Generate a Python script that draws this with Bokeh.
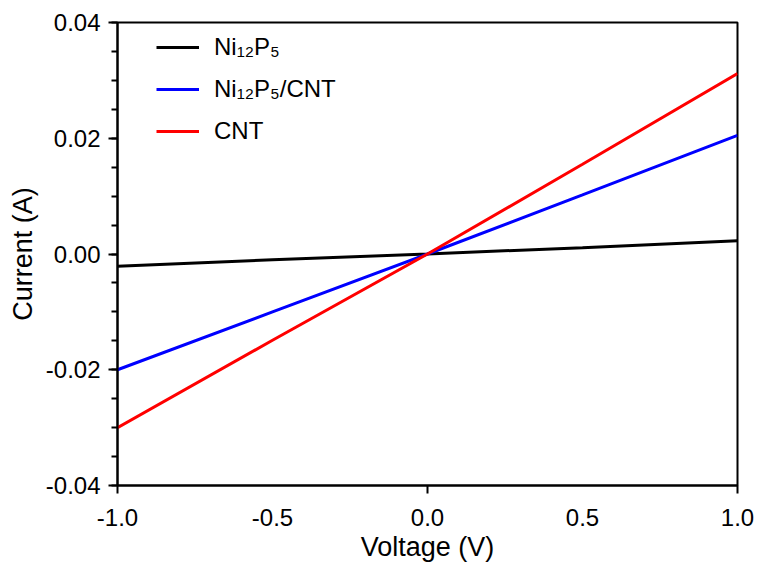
from bokeh.plotting import figure
from bokeh.models import Range1d, FixedTicker, PrintfTickFormatter, Legend, LegendItem
from bokeh.embed import file_html
from bokeh.resources import INLINE

voltage = [-1.0, -0.5, 0.0, 0.5, 1.0]
ni12p5 = [-0.0021, -0.0010, 0.0, 0.0011, 0.0023]
ni12p5_cnt = [-0.0200, -0.0100, 0.0, 0.0102, 0.0205]
cnt = [-0.0300, -0.0149, 0.0, 0.0155, 0.0312]

series_names = ["Ni\u2081\u2082P\u2085", "Ni\u2081\u2082P\u2085/CNT", "CNT"]
series_colors = ["#000000", "#0000ff", "#ff0000"]

x_ticks = [-1.0, -0.5, 0.0, 0.5, 1.0]
x_tick_marks = [-1.0, 0.0, 1.0]
y_ticks = [-0.04, -0.02, 0.0, 0.02, 0.04]
y_minor = [-0.04 + 0.005 * i for i in range(17)]

FONT = "Liberation Sans"

p = figure(width=760, height=568, output_backend="svg", toolbar_location=None,
           x_range=Range1d(-1.0, 1.0), y_range=Range1d(-0.04, 0.04),
           min_border_left=117, min_border_right=23, min_border_top=22, min_border_bottom=83)
p.background_fill_color = "white"
p.border_fill_color = "white"
p.grid.visible = False
p.outline_line_color = "black"
p.outline_line_width = 2

renderers = []
for ys, c in zip([ni12p5, ni12p5_cnt, cnt], series_colors):
    r = p.line(voltage, ys, line_color=c, line_width=3)
    renderers.append(r)

xa = p.xaxis[0]
xa.ticker = FixedTicker(ticks=x_ticks, minor_ticks=x_tick_marks)
xa.formatter = PrintfTickFormatter(format="%.1f")
xa.major_tick_out = 0
xa.major_tick_in = 0
xa.minor_tick_out = 8
xa.minor_tick_in = 0
xa.minor_tick_line_width = 2
xa.axis_line_width = 2
xa.axis_label = "Voltage (V)"

ya = p.yaxis[0]
ya.ticker = FixedTicker(ticks=y_ticks, minor_ticks=y_minor)
ya.formatter = PrintfTickFormatter(format="%.2f")
ya.major_tick_out = 9
ya.major_tick_in = 0
ya.minor_tick_out = 6
ya.minor_tick_in = 0
ya.major_tick_line_width = 2
ya.minor_tick_line_width = 2
ya.axis_line_width = 2
ya.axis_label = "Current (A)"

for ax in [xa, ya]:
    ax.axis_line_color = "black"
    ax.major_tick_line_color = "black"
    ax.minor_tick_line_color = "black"
    ax.major_label_text_font = FONT
    ax.major_label_text_font_size = "24px"
    ax.major_label_text_color = "black"
    ax.axis_label_text_font = FONT
    ax.axis_label_text_font_size = "27px"
    ax.axis_label_text_font_style = "normal"
    ax.axis_label_text_color = "black"

ya.major_label_standoff = 8
ya.axis_label_standoff = 5
xa.major_label_standoff = 15
xa.axis_label_standoff = 3

legend = Legend(items=[LegendItem(label=n, renderers=[r]) for n, r in zip(series_names, renderers)],
                location=(39, 340))
legend.border_line_color = None
legend.background_fill_alpha = 0
legend.padding = 10
legend.margin = 0
legend.spacing = 14
legend.label_height = 26
legend.glyph_height = 26
legend.glyph_width = 43
legend.label_standoff = 15
legend.label_text_font = FONT
legend.label_text_font_size = "24px"
legend.label_text_color = "black"
p.add_layout(legend, "center")

open("out.html", "w").write(file_html(p, INLINE))
